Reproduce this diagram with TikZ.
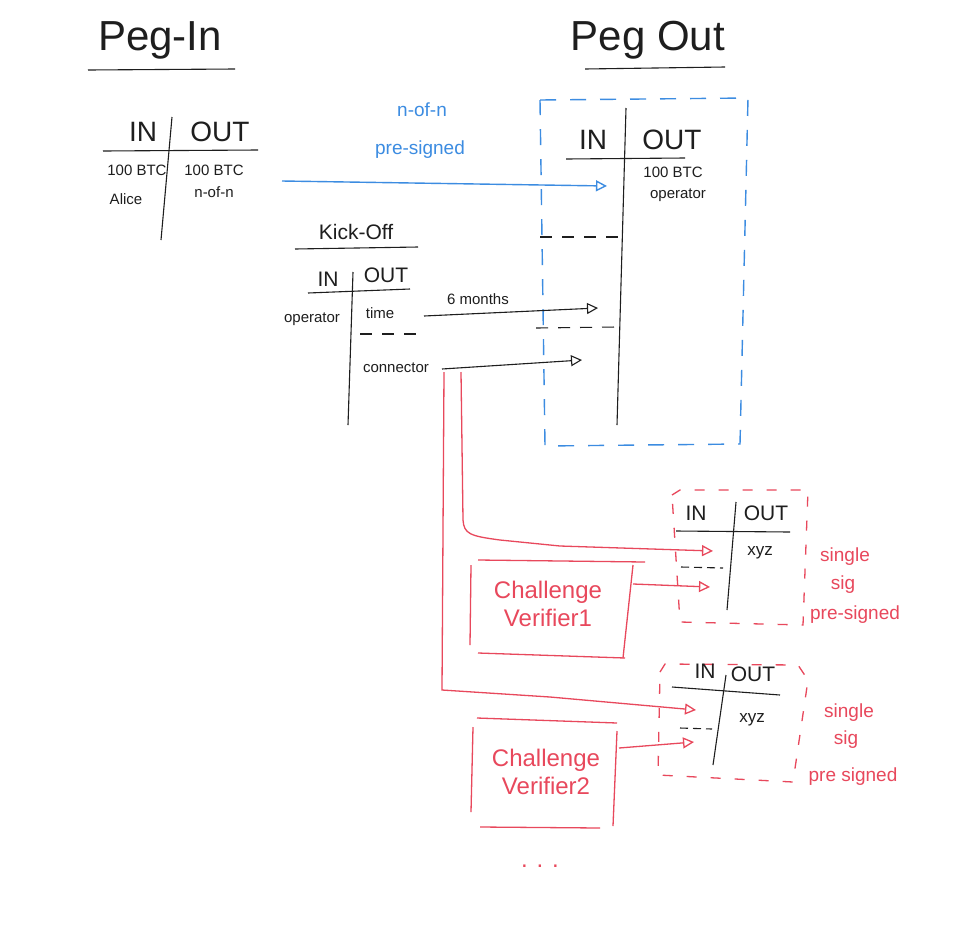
\documentclass[tikz,border=0pt]{standalone}
\usepackage{fontspec}
\setmainfont{Liberation Sans}
\usetikzlibrary{arrows.meta}
\definecolor{penblue}{RGB}{60,140,225}
\definecolor{penred}{RGB}{232,72,92}
\definecolor{ink}{RGB}{30,30,30}
\begin{document}
\begin{tikzpicture}[x=1pt,y=-1pt,
  pen/.style={draw=ink,line width=1.1pt},
  bpen/.style={draw=penblue,line width=1.4pt},
  rpen/.style={draw=penred,line width=1.3pt},
  tip/.style={-{Triangle[open,length=11pt,width=11pt]}},
  ttl/.style={font=\fontsize{42}{46}\selectfont,text=ink,inner sep=0},
  hdr/.style={font=\fontsize{28}{30}\selectfont,text=ink,inner sep=0},
  shdr/.style={font=\fontsize{21}{23}\selectfont,text=ink,inner sep=0},
  lbl/.style={font=\fontsize{15}{17}\selectfont,text=ink,inner sep=0},
  blbl/.style={font=\fontsize{19}{21}\selectfont,text=penblue,inner sep=0},
  rlbl/.style={font=\fontsize{19}{21}\selectfont,text=penred,inner sep=0},
  rbig/.style={font=\fontsize{24}{28}\selectfont,text=penred,inner sep=0,align=center},
  bdash/.style={bpen,dash pattern=on 16pt off 14pt},
  rdash/.style={rpen,dash pattern=on 10pt off 14pt},
  kdash/.style={pen,dash pattern=on 12pt off 10pt}]
\useasboundingbox[fill=white] (0,0) rectangle (963,932);

% ---------- Peg-In ----------
\node[ttl] (pegin) at (160,40) {Peg-In};
\draw[pen] (88,70) -- (235,69);
\node[hdr] (pinIN) at (143,132) {IN};
\node[hdr] (pinOUT) at (220,132) {OUT};
\draw[pen] (103,151) -- (258,150);
\draw[pen] (172,117) -- (161,240);
\node[lbl] (pinBTC) at (137,170) {100 BTC};
\node[lbl] (pinAlice) at (126,199) {Alice};
\node[lbl] (poutBTC) at (214,170) {100 BTC};
\node[lbl] (poutNN) at (214,192) {n-of-n};

% ---------- Peg Out ----------
\node[ttl] (pegout) at (648,40) {Peg Out};
\draw[pen] (585,69) -- (725,67);
\draw[bdash] (540,100) -- (748,98) -- (740,444) -- (545,446) -- cycle;
\node[hdr] (poIN) at (593,140) {IN};
\node[hdr] (poOUT) at (672,140) {OUT};
\draw[pen] (566,159) -- (685,158);
\draw[pen] (626,108) -- (617,425);
\node[lbl] (poBTC) at (673,172) {100 BTC};
\node[lbl] (poOp) at (678,195) {operator};
\draw[kdash] (540,237) -- (620,237);
\draw[kdash] (536,328) -- (617,327);
\coordinate (poIn1) at (607,186);
\coordinate (poIn2) at (598,308);
\coordinate (poIn3) at (582,360);

% ---------- blue arrow ----------
\coordinate (pinOutEnd) at (282,181);
\draw[bpen,tip] (pinOutEnd) -- (poIn1);
\node[blbl] (nn) at (422,110) {n-of-n};
\node[blbl] (presig) at (420,150) {pre-signed};

% ---------- Kick-Off ----------
\node[shdr] (kick) at (356,232) {Kick-Off};
\draw[pen] (295,249) -- (418,247);
\node[shdr] (kIN) at (328,279) {IN};
\node[shdr] (kOUT) at (386,275) {OUT};
\draw[pen] (308,293) -- (410,289);
\draw[pen] (353,272) -- (348,425);
\node[lbl] (kop) at (312,319) {operator};
\node[lbl] (ktime) at (380,313) {time};
\draw[kdash] (360,334) -- (425,334);
\node[lbl] (kconn) at (396,368) {connector};
\coordinate (timeOut) at (424,316);
\coordinate (connOut) at (442,369);
\draw[pen,tip] (timeOut) -- (poIn2);
\node[lbl] (sixm) at (478,299) {6 months};
\draw[pen,tip] (connOut) -- (poIn3);

% ---------- verifier tx 1 ----------
\draw[rdash] (672,495) -- (680,490) -- (808,490) -- (803,625) -- (680,622) -- cycle;
\node[shdr] (t1IN) at (696,513) {IN};
\node[shdr] (t1OUT) at (766,513) {OUT};
\draw[pen] (676,531) -- (790,532);
\draw[pen] (736,502) -- (727,610);
\node[lbl,font=\fontsize{17}{19}\selectfont] (t1x) at (760,553) {xyz};
\draw[kdash,dash pattern=on 8pt off 5pt] (681,567) -- (723,568);
\coordinate (t1In1) at (713,551);
\coordinate (t1In2) at (710,587);

\draw[rpen] (478,560) -- (645,562);
\draw[rpen] (471,565) -- (470,645);
\draw[rpen] (633,565) -- (623,658);
\draw[rpen] (478,653) -- (625,658);
\node[rbig] (cv1) at (548,604) {Challenge\\Verifier1};
\coordinate (cv1Out) at (633,584);
\draw[rpen,tip] (cv1Out) -- (t1In2);
\node[rlbl] (ss1a) at (845,557) {single};
\node[rlbl] (ss1b) at (843,585) {sig};
\node[rlbl] (ss1c) at (855,615) {pre-signed};

% ---------- verifier tx 2 ----------
\draw[rdash] (660,672) -- (665,664) -- (798,665) -- (808,680) -- (793,782) -- (658,775) -- cycle;
\node[shdr] (t2IN) at (705,671) {IN};
\node[shdr] (t2OUT) at (753,674) {OUT};
\draw[pen] (672,687) -- (780,695);
\draw[pen] (726,675) -- (713,765);
\node[lbl,font=\fontsize{17}{19}\selectfont] (t2x) at (752,720) {xyz};
\draw[kdash,dash pattern=on 8pt off 5pt] (680,728) -- (712,729);
\coordinate (t2In1) at (696,710);
\coordinate (t2In2) at (694,742);

\draw[rpen] (477,718) -- (617,723);
\draw[rpen] (473,727) -- (471,812);
\draw[rpen] (617,731) -- (613,826);
\draw[rpen] (480,827) -- (600,828);
\node[rbig] (cv2) at (546,772) {Challenge\\Verifier2};
\coordinate (cv2Out) at (619,748);
\draw[rpen,tip] (cv2Out) -- (t2In2);
\node[rlbl] (ss2a) at (849,713) {single};
\node[rlbl] (ss2b) at (846,740) {sig};
\node[rlbl] (ss2c) at (853,777) {pre signed};

% ---------- red connectors from connector output ----------
\coordinate (redA) at (444,372);
\coordinate (redB) at (461,372);
\draw[rpen,tip] (redB) -- (463,520) .. controls (464,534) and (470,536) .. (500,540) -- (560,546) -- (t1In1);
\draw[rpen,tip] (redA) -- (442,690) -- (550,697) -- (t2In1);

\node[font=\fontsize{24}{26}\selectfont,text=penred,inner sep=0] (dots) at (540,866) {. . .};
\end{tikzpicture}
\end{document}
